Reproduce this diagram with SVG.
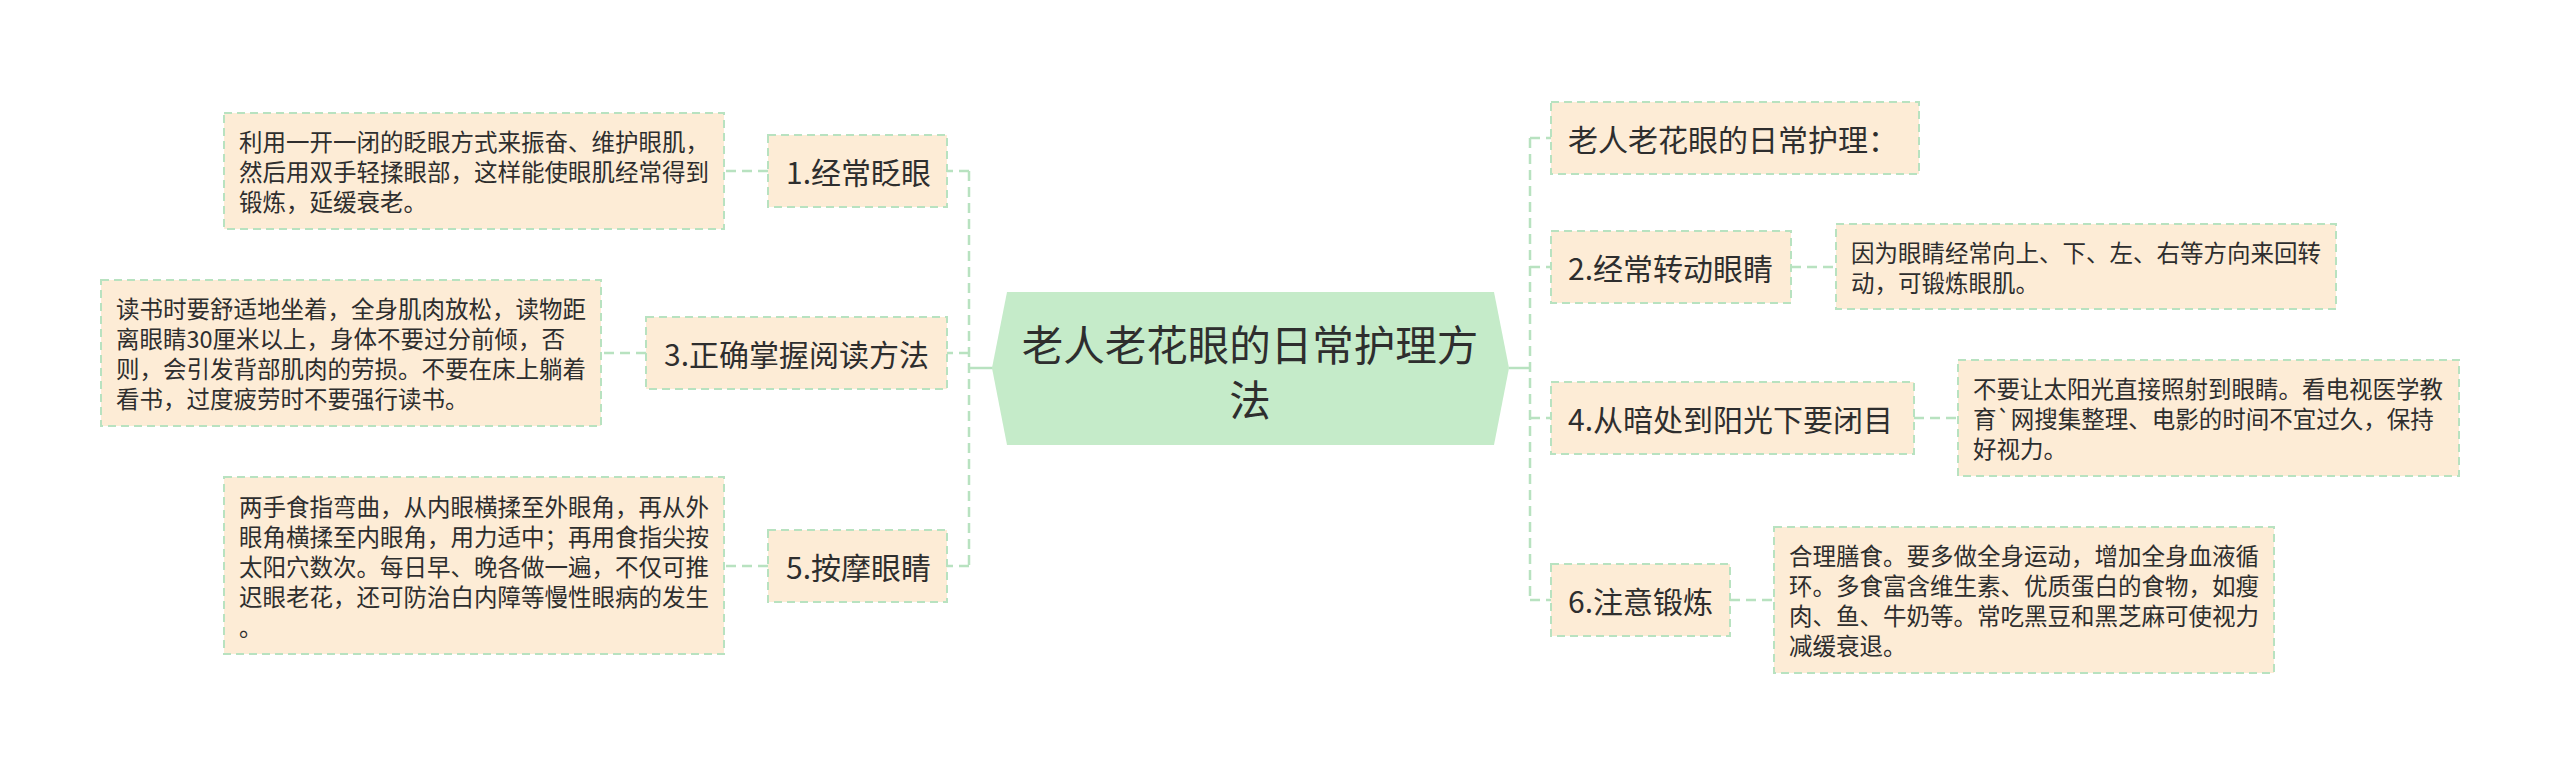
<svg xmlns="http://www.w3.org/2000/svg" width="2560" height="775" viewBox="0 0 2560 775">
<style>
.box{fill:#fdecd6;stroke:#b8e2c0;stroke-width:2;stroke-dasharray:8 5}
.conn{fill:none;stroke:#b8e2c0;stroke-width:2.5;stroke-dasharray:10 6}
.solid{fill:none;stroke:#b8e2c0;stroke-width:2.5}
.t{font-family:"Noto Sans CJK SC","Noto Sans",sans-serif;fill:#2e2e2e;dominant-baseline:central}
.m{font-size:30px}
.d{font-size:23.5px}
.c{font-size:41.5px;text-anchor:middle}
</style>
<rect width="2560" height="775" fill="#ffffff"/>
<g id="connectors">
<path class="solid" d="M993 368 H969"/>
<path class="conn" d="M969 171 V566"/>
<path class="conn" d="M969 171 H947 M969 353 H947 M969 566 H947"/>
<path class="conn" d="M768 171 H724 M646 353 H601 M768 566 H724"/>
<path class="solid" d="M1509 368 H1530"/>
<path class="conn" d="M1530 138 V600"/>
<path class="conn" d="M1530 138 H1551 M1530 267 H1551 M1530 418 H1551 M1530 600 H1551"/>
<path class="conn" d="M1791 267 H1836 M1914 418 H1958 M1730 600 H1774"/>
</g>
<g id="center">
<polygon points="992,368 1007,292 1494,292 1509,368 1494,445 1007,445" fill="#c5ebc9"/>
<text class="t c" x="1250" y="343">老人老花眼的日常护理方</text>
<text class="t c" x="1250" y="398">法</text>
</g>
<g id="n1">
<rect class="box" x="768" y="135" width="179" height="72"/>
<text class="t m" x="786" y="171">1.经常眨眼</text>
</g>
<g id="d1">
<rect class="box" x="224" y="113" width="500" height="116"/>
<text class="t d" x="239" y="141">利用一开一闭的眨眼方式来振奋、维护眼肌，</text>
<text class="t d" x="239" y="171">然后用双手轻揉眼部，这样能使眼肌经常得到</text>
<text class="t d" x="239" y="201">锻炼，延缓衰老。</text>
</g>
<g id="n3">
<rect class="box" x="646" y="317" width="301" height="72"/>
<text class="t m" x="664" y="353">3.正确掌握阅读方法</text>
</g>
<g id="d3">
<rect class="box" x="101" y="280" width="500" height="146"/>
<text class="t d" x="116" y="308">读书时要舒适地坐着，全身肌肉放松，读物距</text>
<text class="t d" x="116" y="338">离眼睛30厘米以上，身体不要过分前倾，否</text>
<text class="t d" x="116" y="368">则，会引发背部肌肉的劳损。不要在床上躺着</text>
<text class="t d" x="116" y="398">看书，过度疲劳时不要强行读书。</text>
</g>
<g id="n5">
<rect class="box" x="768" y="530" width="179" height="72"/>
<text class="t m" x="786" y="566">5.按摩眼睛</text>
</g>
<g id="d5">
<rect class="box" x="224" y="477" width="500" height="177"/>
<text class="t d" x="239" y="506">两手食指弯曲，从内眼横揉至外眼角，再从外</text>
<text class="t d" x="239" y="536">眼角横揉至内眼角，用力适中；再用食指尖按</text>
<text class="t d" x="239" y="566">太阳穴数次。每日早、晚各做一遍，不仅可推</text>
<text class="t d" x="239" y="596">迟眼老花，还可防治白内障等慢性眼病的发生</text>
<text class="t d" x="239" y="626">。</text>
</g>
<g id="n0">
<rect class="box" x="1551" y="102" width="368" height="72"/>
<text class="t m" x="1568" y="138">老人老花眼的日常护理：</text>
</g>
<g id="n2">
<rect class="box" x="1551" y="231" width="240" height="72"/>
<text class="t m" x="1568" y="267">2.经常转动眼睛</text>
</g>
<g id="d2">
<rect class="box" x="1836" y="224" width="500" height="85"/>
<text class="t d" x="1851" y="252">因为眼睛经常向上、下、左、右等方向来回转</text>
<text class="t d" x="1851" y="282">动，可锻炼眼肌。</text>
</g>
<g id="n4">
<rect class="box" x="1551" y="382" width="363" height="72"/>
<text class="t m" x="1568" y="418">4.从暗处到阳光下要闭目</text>
</g>
<g id="d4">
<rect class="box" x="1958" y="360" width="501" height="116"/>
<text class="t d" x="1973" y="388">不要让太阳光直接照射到眼睛。看电视医学教</text>
<text class="t d" x="1973" y="418">育`网搜集整理、电影的时间不宜过久，保持</text>
<text class="t d" x="1973" y="448">好视力。</text>
</g>
<g id="n6">
<rect class="box" x="1551" y="564" width="179" height="72"/>
<text class="t m" x="1568" y="600">6.注意锻炼</text>
</g>
<g id="d6">
<rect class="box" x="1774" y="527" width="500" height="146"/>
<text class="t d" x="1789" y="555">合理膳食。要多做全身运动，增加全身血液循</text>
<text class="t d" x="1789" y="585">环。多食富含维生素、优质蛋白的食物，如瘦</text>
<text class="t d" x="1789" y="615">肉、鱼、牛奶等。常吃黑豆和黑芝麻可使视力</text>
<text class="t d" x="1789" y="645">减缓衰退。</text>
</g>
</svg>
